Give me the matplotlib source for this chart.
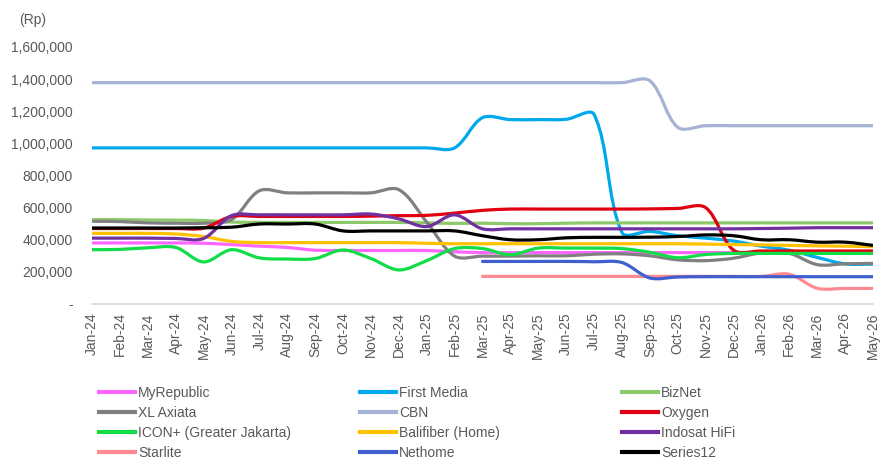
import numpy as np
import matplotlib
matplotlib.use("Agg")
import matplotlib.pyplot as plt
from matplotlib.path import Path
from matplotlib.patches import PathPatch
from matplotlib.lines import Line2D

plt.rcParams["font.family"] = ["Liberation Sans", "DejaVu Sans"]

months = ["Jan-24", "Feb-24", "Mar-24", "Apr-24", "May-24", "Jun-24", "Jul-24", "Aug-24",
          "Sep-24", "Oct-24", "Nov-24", "Dec-24", "Jan-25", "Feb-25", "Mar-25", "Apr-25",
          "May-25", "Jun-25", "Jul-25", "Aug-25", "Sep-25", "Oct-25", "Nov-25", "Dec-25",
          "Jan-26", "Feb-26", "Mar-26", "Apr-26", "May-26"]

# values in thousand Rp
myrepublic = [380, 380, 380, 380, 378, 370, 360, 352, 335, 333, 333, 333, 333, 325, 320,
              320, 320, 320, 320, 320, 320, 320, 320, 320, 320, 320, 320, 320, 320]
first_media = [972] * 14 + [1160, 1148, 1148, 1150, 1180, 445, 452, 425, 410, 392,
                            360, 335, 290, 250, 248]
biznet = [525, 525, 523, 522, 520, 510, 508, 508, 508, 508, 508, 508, 505, 502, 503,
          500, 500, 503, 505, 505, 505, 505, 505, 505, 505, 505, 505, 505, 505]
xl_axiata = [515, 513, 505, 503, 503, 525, 705, 692, 692, 692, 692, 712, 510, 298, 298,
             298, 300, 300, 310, 312, 300, 275, 270, 285, 318, 315, 245, 250, 253]
cbn = [1378] * 20 + [1390, 1100, 1110, 1110, 1110, 1110, 1110, 1110, 1110]
oxygen = [470, 470, 470, 470, 472, 545, 545, 545, 545, 545, 547, 550, 552, 566, 583,
          591, 591, 591, 591, 591, 592, 595, 600, 335, 330, 330, 330, 330, 330]
icon_plus = [338, 340, 350, 352, 262, 338, 287, 280, 283, 336, 283, 212, 270, 345, 345,
             307, 348, 348, 348, 345, 322, 288, 308, 315, 315, 315, 315, 315, 315]
balifiber = [440, 440, 440, 436, 420, 390, 382, 382, 382, 382, 382, 382, 378, 375, 375,
             375, 375, 375, 375, 375, 375, 375, 373, 370, 368, 365, 362, 360, 357]
indosat = [410, 410, 410, 408, 408, 550, 555, 555, 555, 555, 560, 530, 482, 555, 468,
           468, 468, 468, 468, 468, 468, 468, 468, 468, 470, 472, 475, 475, 475]
starlite = [None] * 14 + [172] * 11 + [185, 98, 97, 97]
nethome = [None] * 14 + [265, 265, 265, 265, 263, 258, 162, 168, 170, 170, 170, 170,
                         170, 170, 170]
series12 = [473, 473, 473, 473, 475, 478, 498, 498, 498, 455, 455, 455, 455, 455, 425,
            400, 400, 412, 415, 415, 416, 420, 430, 425, 400, 400, 385, 385, 365]

names = ["MyRepublic", "First Media", "BizNet", "XL Axiata", "CBN", "Oxygen",
         "ICON+ (Greater Jakarta)", "Balifiber (Home)", "Indosat HiFi", "Starlite",
         "Nethome", "Series12"]
series = [myrepublic, first_media, biznet, xl_axiata, cbn, oxygen, icon_plus,
          balifiber, indosat, starlite, nethome, series12]
colors = ["#FF66FF", "#00A8EC", "#8DC86A", "#808080", "#A5B4D4", "#E0000F",
          "#10DD48", "#FFC000", "#7030A0", "#FF8A91", "#3F5FCF", "#000000"]

W, H = 891, 466
fig = plt.figure(figsize=(W / 100, H / 100), dpi=100)
ax = fig.add_axes([92 / W, 1 - 304 / H, 781 / W, 257 / H])
ax.set_xlim(0, len(months) - 1)
ax.set_ylim(0, 1600000)

# pixel scale, used to weight the smoothing like Excel does
sx = 781 / (len(months) - 1)
sy = 257 / 1600000


def smooth_path(xs, ys):
    pts = np.column_stack([xs, ys]).astype(float)
    n = len(pts)
    verts = [tuple(pts[0])]
    codes = [Path.MOVETO]
    scale = np.array([sx, sy])

    def seglen(a, b):
        return np.hypot(*((b - a) * scale))

    for i in range(n - 1):
        p0 = pts[i - 1] if i > 0 else pts[i]
        p1, p2 = pts[i], pts[i + 1]
        p3 = pts[i + 2] if i + 2 < n else pts[i + 1]
        l01, l12, l23 = seglen(p0, p1), seglen(p1, p2), seglen(p2, p3)
        f1 = l12 / (l01 + l12) if l01 + l12 > 0 else 0
        f2 = l12 / (l12 + l23) if l12 + l23 > 0 else 0
        c1 = p1 + (p2 - p0) * f1 / 3
        c2 = p2 - (p3 - p1) * f2 / 3
        verts += [tuple(c1), tuple(c2), tuple(p2)]
        codes += [Path.CURVE4] * 3
    return Path(verts, codes)


for vals, col in zip(series, colors):
    xs, ys = [], []
    for i, v in enumerate(vals + [None]):
        if v is None:
            if len(xs) > 1:
                ax.add_patch(PathPatch(smooth_path(xs, ys), fill=False, edgecolor=col,
                                       lw=2.3, capstyle="round", joinstyle="round"))
            xs, ys = [], []
        else:
            xs.append(i)
            ys.append(v * 1000)

for s in ["top", "right", "left"]:
    ax.spines[s].set_visible(False)
ax.spines["bottom"].set_color("#D9D9D9")
ax.spines["bottom"].set_linewidth(1.2)

ax.set_yticks(np.arange(0, 1600001, 200000))
ax.set_yticklabels(["-" if v == 0 else f"{v:,.0f}" for v in range(0, 1600001, 200000)])
ax.set_xticks(range(len(months)))
ax.set_xticklabels(months, rotation=90)
ax.tick_params(axis="y", length=0, pad=14, labelsize=10, labelcolor="#595959")
ax.tick_params(axis="x", length=0, pad=6, labelsize=10, labelcolor="#595959")

fig.text(33 / W, 1 - 20 / H, "(Rp)", ha="center", va="center", fontsize=10, color="#595959")

# legend: three equal columns, row-wise order like Excel
handles = [Line2D([], [], color=c, lw=3) for c in colors]
col_x = [99, 360, 622]
for j in range(3):
    idx = [j + 3 * r for r in range(4)]
    fig.legend([handles[k] for k in idx], [names[k] for k in idx],
               loc="upper left", bbox_to_anchor=(col_x[j] / W, 1 - 386 / H),
               frameon=False, fontsize=10, labelcolor="#595959",
               handlelength=2.6, handletextpad=0.2, labelspacing=0.44,
               borderpad=0, borderaxespad=0)

fig.savefig("out.png", dpi=100)
